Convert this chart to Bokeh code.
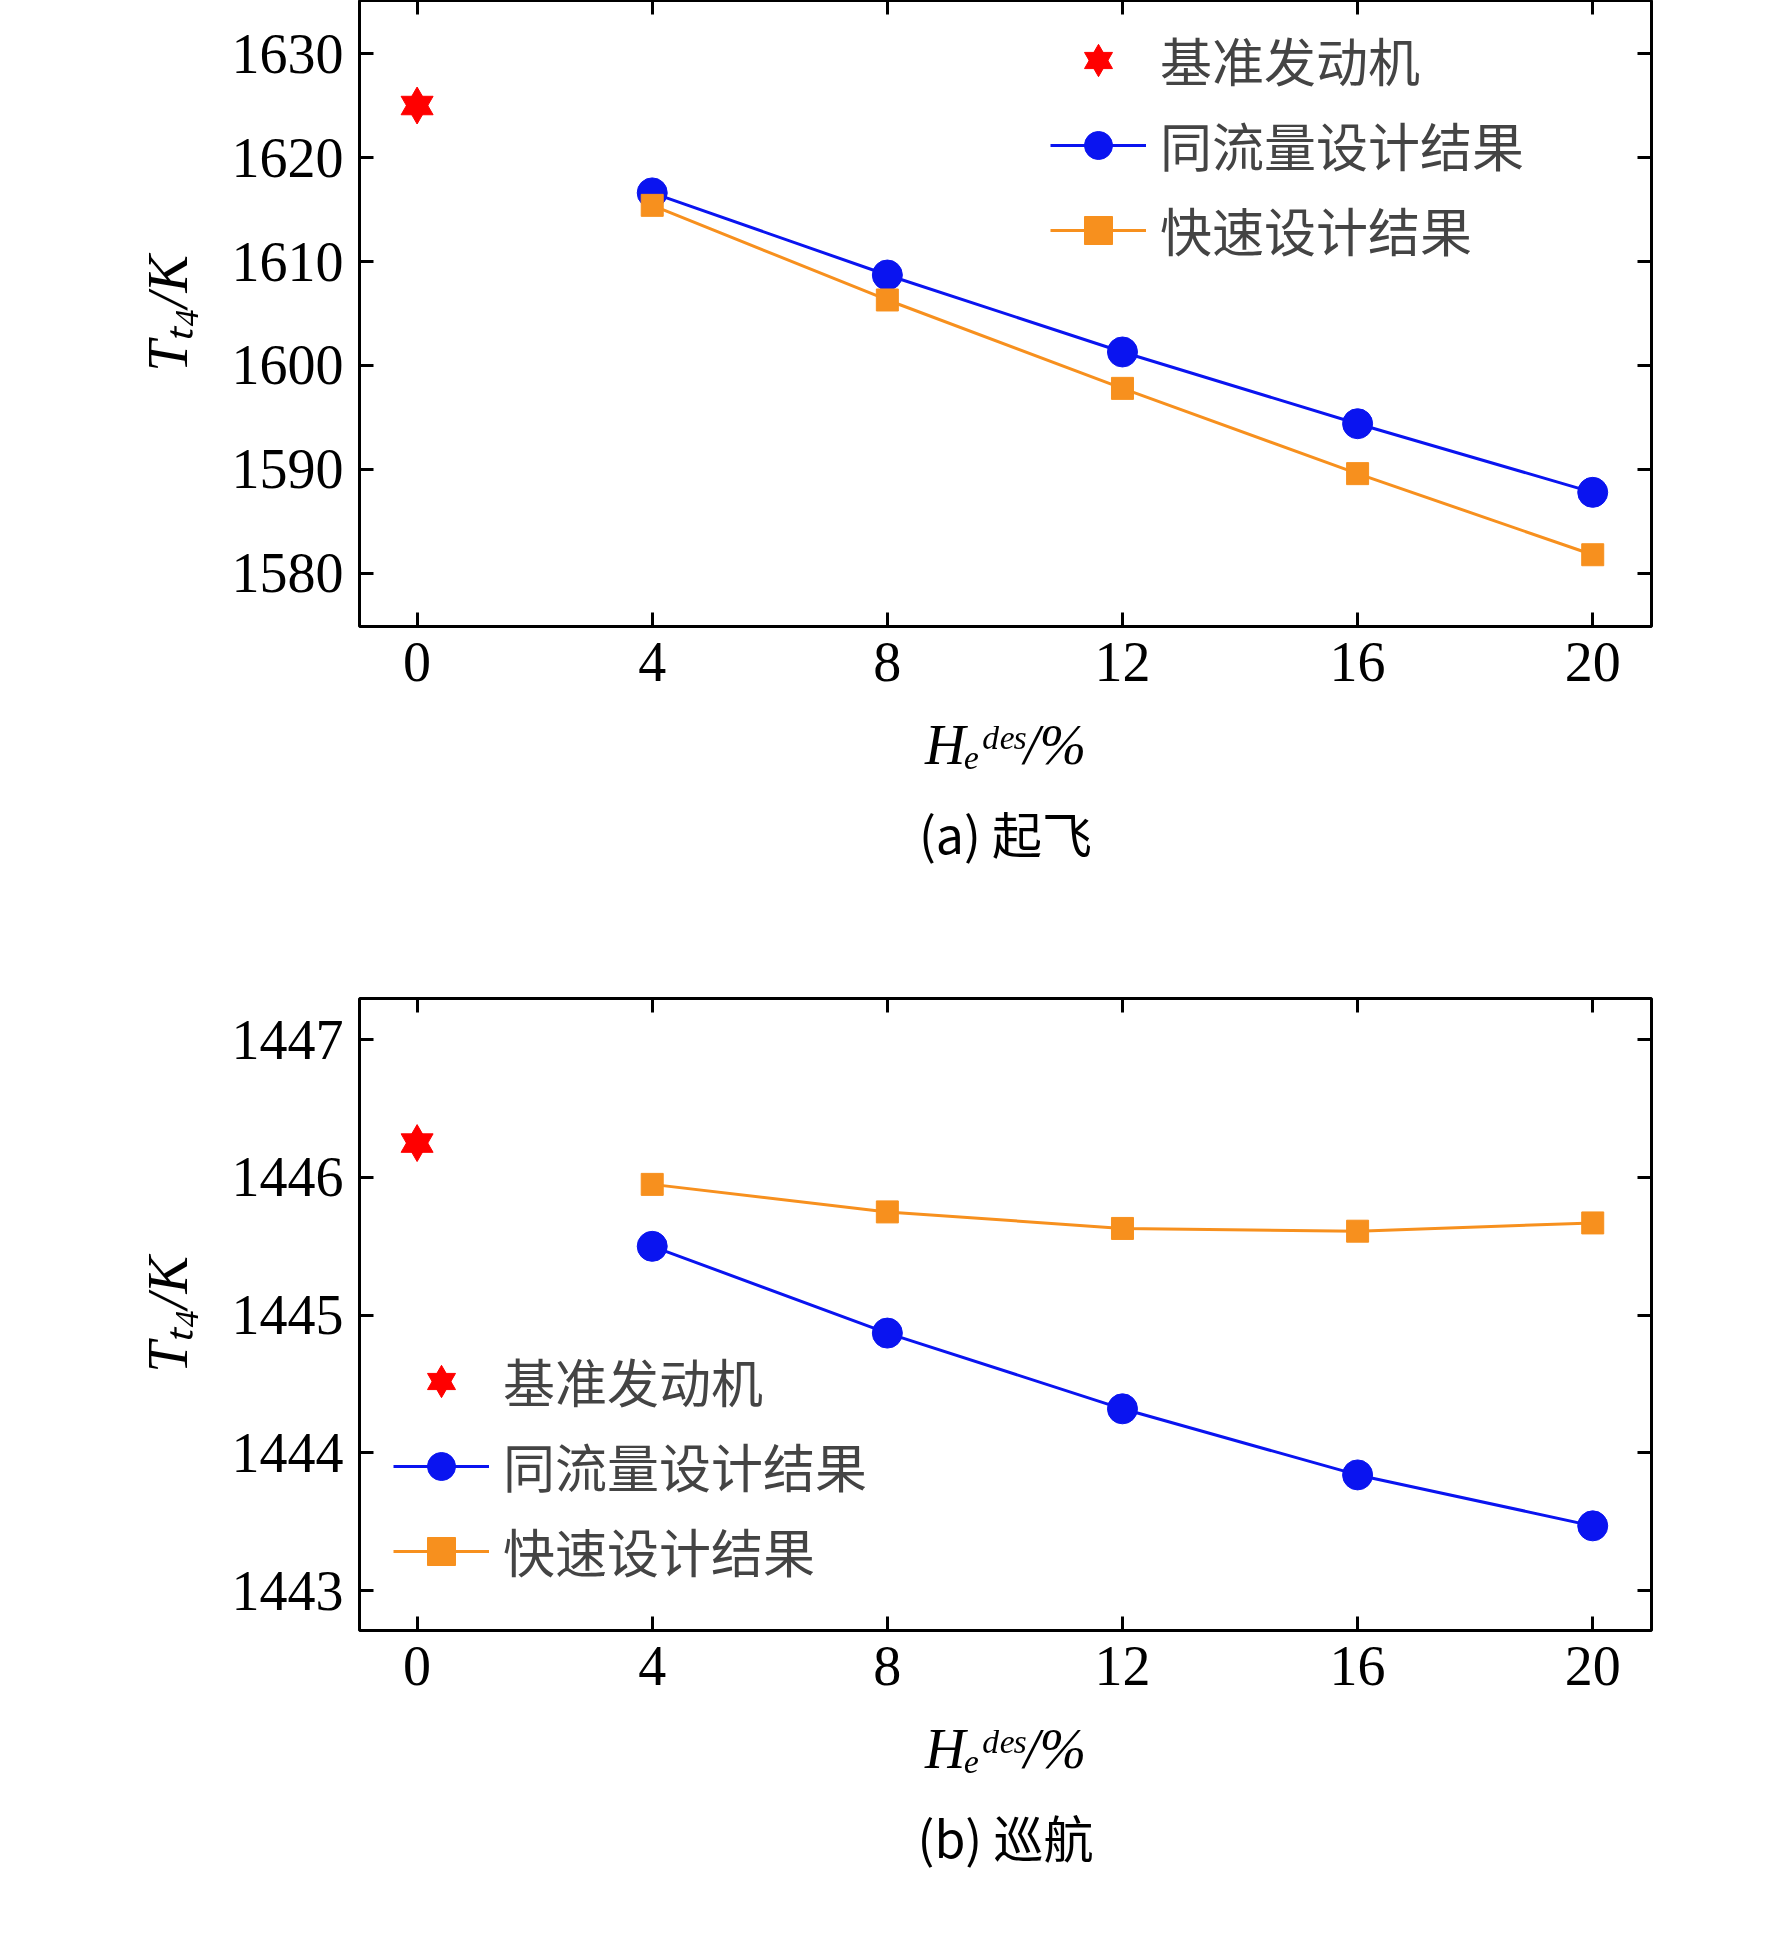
from bokeh.plotting import figure
from bokeh.models import Range1d, LinearAxis, FixedTicker, Legend, LegendItem, Title
from bokeh.layouts import column
from bokeh.embed import file_html
from bokeh.resources import INLINE

x_ticks = [0, 4, 8, 12, 16, 20]
x_des = [4, 8, 12, 16, 20]
base_x = [0]
a_base = [1625.0]
a_same = [1616.6, 1608.7, 1601.3, 1594.4, 1587.8]
a_fast = [1615.4, 1606.3, 1597.8, 1589.6, 1581.8]
a_yticks = [1580, 1590, 1600, 1610, 1620, 1630]
b_base = [1446.25]
b_same = [1445.50, 1444.87, 1444.32, 1443.84, 1443.47]
b_fast = [1445.95, 1445.75, 1445.63, 1445.61, 1445.67]
b_yticks = [1443, 1444, 1445, 1446, 1447]
names = ["基准发动机", "同流量设计结果", "快速设计结果"]
x_label = "Hₑᵈᵉˢ/%"
y_label = "Tₜ₄/K"

SERIF = "Liberation Serif"
CJK = "Noto Sans CJK SC"
BLUE = "#0a14f0"
ORANGE = "#f7901e"
RED = "#ff0000"

W = 1756
BL, BR = 359, 105
XR = (-0.98, 21.0)


def panel(ylim, yticks, base, same, fast, caption, btop, fh, bbot, leg_loc):
    p = figure(width=W, height=btop + fh + bbot, output_backend="svg",
               toolbar_location=None, x_range=Range1d(*XR), y_range=Range1d(*ylim),
               min_border_left=BL, min_border_right=BR, min_border_top=btop,
               min_border_bottom=bbot)
    p.xgrid.visible = False
    p.ygrid.visible = False
    p.outline_line_color = "black"
    p.outline_line_width = 3
    p.xaxis.ticker = FixedTicker(ticks=x_ticks)
    p.yaxis.ticker = FixedTicker(ticks=yticks)
    for ax in [p.xaxis[0], p.yaxis[0]]:
        ax.major_label_text_font = SERIF
        ax.major_label_text_font_size = "56px"
        ax.major_label_text_color = "black"
        ax.axis_line_color = None
        ax.major_tick_in = 14
        ax.major_tick_out = 0
        ax.major_tick_line_width = 3
        ax.minor_tick_line_color = None
        ax.major_label_standoff = 16
        ax.axis_label_text_font = SERIF
        ax.axis_label_text_font_size = "56px"
        ax.axis_label_text_font_style = "italic"
        ax.axis_label_text_color = "black"
    p.xaxis.axis_label = x_label
    p.xaxis.axis_label_standoff = 30
    p.yaxis.axis_label = y_label
    p.yaxis.axis_label_standoff = 30
    ax2 = LinearAxis(ticker=FixedTicker(ticks=x_ticks), major_label_text_font_size="0px",
                     axis_line_color=None, major_tick_in=14, major_tick_out=0,
                     major_tick_line_width=3, minor_tick_line_color=None)
    ay2 = LinearAxis(ticker=FixedTicker(ticks=yticks), major_label_text_font_size="0px",
                     axis_line_color=None, major_tick_in=14, major_tick_out=0,
                     major_tick_line_width=3, minor_tick_line_color=None)
    p.add_layout(ax2, "above")
    p.add_layout(ay2, "right")
    p.add_layout(Title(text=caption, align="center", text_font=CJK,
                       text_font_size="50px", text_font_style="normal",
                       text_color="black", standoff=30), "below")

    r1 = p.scatter(base_x, base, marker="triangle", size=32, color=RED)
    r2 = p.scatter(base_x, base, marker="inverted_triangle", size=32, color=RED)
    l1 = p.line(x_des, same, color=BLUE, line_width=3)
    s1 = p.scatter(x_des, same, marker="circle", size=30, color=BLUE)
    l2 = p.line(x_des, fast, color=ORANGE, line_width=3)
    s2 = p.scatter(x_des, fast, marker="square", size=22, color=ORANGE)
    leg = Legend(items=[LegendItem(label=names[0], renderers=[r1, r2]),
                        LegendItem(label=names[1], renderers=[l1, s1]),
                        LegendItem(label=names[2], renderers=[l2, s2])],
                 location=leg_loc, background_fill_alpha=0, border_line_color=None,
                 label_text_font=CJK, label_text_font_size="52px",
                 glyph_width=96, glyph_height=70, label_height=70, spacing=10,
                 padding=0, margin=0, label_standoff=14)
    p.add_layout(leg, "center")
    return p


p1 = panel((1574.9, 1635.1), a_yticks, a_base, a_same, a_fast, "(a) 起飞",
           0, 626, 334, (691, 359))
p2 = panel((1442.71, 1447.3), b_yticks, b_base, b_same, b_fast, "(b) 巡航",
           38, 632, 296, (34, 42))
p = column(p1, p2, spacing=0)
open("out.html", "w").write(file_html(p, INLINE))
